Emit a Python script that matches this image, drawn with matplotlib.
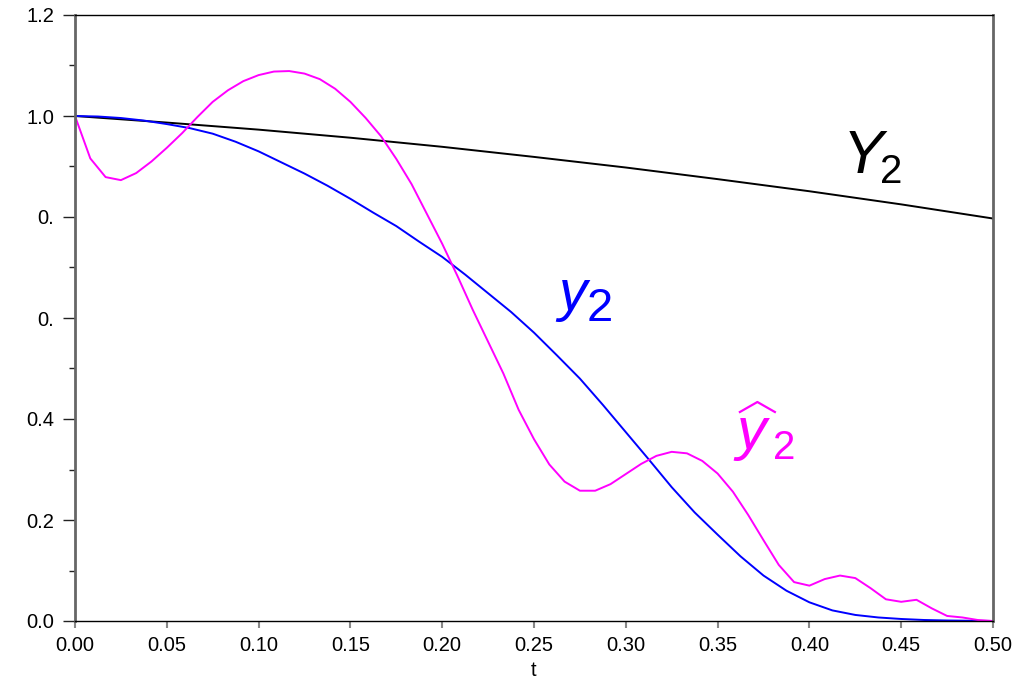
import numpy as np
import matplotlib
matplotlib.use('Agg')
import matplotlib.pyplot as plt
from matplotlib import transforms

plt.rcParams['font.family'] = ['Liberation Sans', 'DejaVu Sans']

# black curve Y2, read every 0.05
t_Y = [0.0, 0.05, 0.10, 0.15, 0.20, 0.25, 0.30, 0.35, 0.40, 0.45, 0.50]
Y2 = [1.0, 0.987, 0.973, 0.957, 0.939, 0.919, 0.898, 0.875, 0.851, 0.825, 0.797]

# blue curve y2, read every 0.0125
y2 = [1.0, 0.999, 0.996, 0.991, 0.984, 0.976, 0.965, 0.949, 0.930, 0.908,
      0.886, 0.862, 0.836, 0.8085, 0.782, 0.751, 0.721, 0.686, 0.649, 0.612,
      0.571, 0.526, 0.480, 0.428, 0.374, 0.320, 0.265, 0.215, 0.171, 0.128,
      0.090, 0.060, 0.037, 0.021, 0.012, 0.007, 0.004, 0.002, 0.001, 0.0005,
      0.0]
t_y = np.linspace(0, 0.5, len(y2))

# magenta curve y2 hat, 61 samples on [0, 0.5]
y2_hat = [1.0, 0.916, 0.879, 0.873, 0.887, 0.910, 0.937, 0.966, 0.998, 1.028,
          1.051, 1.069, 1.081, 1.088, 1.089, 1.084, 1.073, 1.054, 1.028, 0.996,
          0.960, 0.915, 0.865, 0.806, 0.747, 0.683, 0.616, 0.553, 0.49, 0.418,
          0.36, 0.31, 0.276, 0.258, 0.258, 0.271, 0.291, 0.311, 0.327, 0.335,
          0.332, 0.317, 0.292, 0.256, 0.210, 0.160, 0.111, 0.077, 0.070, 0.083,
          0.090, 0.085, 0.065, 0.043, 0.038, 0.042, 0.025, 0.010, 0.007, 0.002,
          0.0]
t_hat = np.linspace(0, 0.5, len(y2_hat))

x_ticks = [0.0, 0.05, 0.10, 0.15, 0.20, 0.25, 0.30, 0.35, 0.40, 0.45, 0.50]
x_labels = ['0.00', '0.05', '0.10', '0.15', '0.20', '0.25', '0.30', '0.35', '0.40', '0.45', '0.50']
y_ticks = [0.0, 0.2, 0.4, 0.6, 0.8, 1.0, 1.2]
y_labels = ['0.0', '0.2', '0.4', '0.', '0.', '1.0', '1.2']

fig = plt.figure(figsize=(10.36, 6.82), dpi=100)
ax = fig.add_axes([75/1036, 61/682, 918/1036, 606/682])

ax.plot(t_Y, Y2, color='black', lw=1.4)
ax.plot(t_y, y2, color='#0000ff', lw=1.4)
ax.plot(t_hat, y2_hat, color='#ff00ff', lw=1.4)


def label(x, y, letter, size, sub_size, sub_dx, sub_dy, color):
    ax.text(x, y, letter, fontsize=size, style='italic', color=color,
            ha='left', va='baseline')
    ax.annotate('2', (x, y), xytext=(sub_dx, sub_dy), textcoords='offset pixels',
                fontsize=sub_size, color=color, ha='left', va='baseline')


label(0.4180, 0.8877, 'Y', 44, 29, 38, -10, 'black')
label(0.2630, 0.6166, 'y', 41, 34, 29, -11, '#0000ff')
label(0.3605, 0.3406, 'y', 43, 29, 36, -10, '#ff00ff')

# hat over the magenta label, drawn in pixels from its anchor
hat_trans = transforms.Affine2D() + transforms.ScaledTranslation(0.3605, 0.3406, ax.transData)
ax.plot([3, 20.5, 38], [37, 47, 37], color='#ff00ff', lw=1.6,
        transform=hat_trans, clip_on=False)

ax.set_xlim(0, 0.5)
ax.set_ylim(0, 1.2)
ax.set_xticks(x_ticks)
ax.set_xticklabels(x_labels)
ax.set_yticks(y_ticks)
ax.set_yticklabels(y_labels)
ax.set_yticks(np.arange(0.1, 1.2, 0.2), minor=True)

ax.tick_params(axis='y', which='major', length=9, width=1, color='#222222', labelsize=14.5, pad=6)
ax.tick_params(axis='y', which='minor', length=4.5, width=1, color='#222222')
ax.tick_params(axis='x', which='major', length=5, width=1.5, color='#888888', labelsize=14.5, pad=6)

for side in ['left', 'right']:
    ax.spines[side].set_color('#666666')
    ax.spines[side].set_linewidth(2)
for side in ['top', 'bottom']:
    ax.spines[side].set_color('black')
    ax.spines[side].set_linewidth(1)

ax.set_xlabel('t', fontsize=14.5, labelpad=4)

fig.savefig('out.png', dpi=100)
